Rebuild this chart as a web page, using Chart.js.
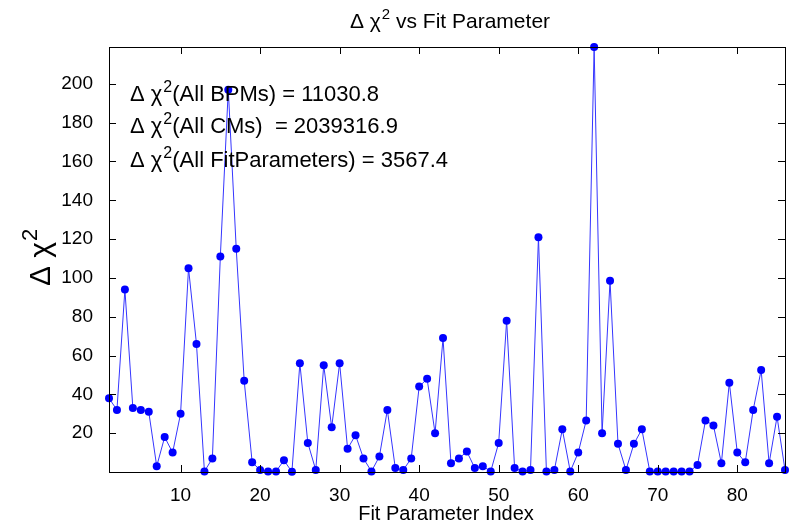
<!DOCTYPE html>
<html>
<head>
<meta charset="utf-8">
<script src="https://cdn.jsdelivr.net/npm/chart.js@4.4.1/dist/chart.umd.min.js"></script>
<style>
html,body{margin:0;padding:0;background:#fff;}
#caja{width:792px;height:525px;}
</style>
</head>
<body>
<div id="caja"><canvas id="GraficaChi"></canvas></div>
<script>
// indice del parametro de ajuste
var Indices = [1,2,3,4,5,6,7,8,9,10,11,12,13,14,15,16,17,18,19,20,
    21,22,23,24,25,26,27,28,29,30,31,32,33,34,35,36,37,38,39,40,
    41,42,43,44,45,46,47,48,49,50,51,52,53,54,55,56,57,58,59,60,
    61,62,63,64,65,66,67,68,69,70,71,72,73,74,75,76,77,78,79,80,
    81,82,83,84,85,86];
// delta chi^2 por parametro
var DeltaChi2 = [38,32,94,33,32,31,3,18,10,30,
    105,66,0.3,7,111,197,115,47,5,1,
    0.3,0.3,6,0.1,56,15,1,55,23,56,
    12,19,7,0.3,8,32,2,1,7,44,
    48,20,69,4.5,7,10.5,2,3,0.3,15,
    78,2,0.3,1,121,0.3,1,22,0.3,10,
    26.5,219,20,98.5,14.5,1,14.5,22,0.3,0.3,
    0.3,0.3,0.3,0.3,3.6,26.5,24,4.5,46,10,
    5,32,52.5,4.5,28.5,1];
var TicksX = [10,20,30,40,50,60,70,80];
var TicksY = [20,40,60,80,100,120,140,160,180,200];
var Totales = ['(All BPMs) = 11030.8', '(All CMs)  = 2039316.9', '(All FitParameters) = 3567.4'];

var FUENTE = '"Liberation Sans", Arial, sans-serif';

function TextoChi(ctx, x, y, size, resto){
    // dibuja "Δ χ" + superindice 2 + resto
    ctx.font = size+'px '+FUENTE;
    ctx.fillText('\u0394 \u03c7', x, y);
    var w = ctx.measureText('\u0394 \u03c7').width;
    ctx.font = Math.round(size*0.72)+'px '+FUENTE;
    ctx.fillText('2', x+w+1, y-size*0.42);
    var w2 = ctx.measureText('2').width;
    ctx.font = size+'px '+FUENTE;
    ctx.fillText(resto, x+w+w2+1, y);
    return w+w2+1+ctx.measureText(resto).width;
}

var Marco = {
    id: 'marco',
    afterDraw: function(chart){
        var ctx = chart.ctx, a = chart.chartArea;
        var sx = chart.scales.x, sy = chart.scales.y;
        ctx.save();
        ctx.strokeStyle = '#000';
        ctx.lineWidth = 1;
        ctx.strokeRect(Math.round(a.left)+0.5, Math.round(a.top)+0.5, Math.round(a.right-a.left), Math.round(a.bottom-a.top));
        ctx.beginPath();
        TicksX.forEach(function(t){
            var px = Math.round(sx.getPixelForValue(t))+0.5;
            ctx.moveTo(px, a.bottom); ctx.lineTo(px, a.bottom-7);
            ctx.moveTo(px, a.top); ctx.lineTo(px, a.top+7);
        });
        TicksY.forEach(function(t){
            var py = Math.round(sy.getPixelForValue(t))+0.5;
            ctx.moveTo(a.left, py); ctx.lineTo(a.left+7, py);
            ctx.moveTo(a.right, py); ctx.lineTo(a.right-7, py);
        });
        ctx.stroke();

        ctx.fillStyle = '#000';
        ctx.textBaseline = 'alphabetic';
        ctx.textAlign = 'left';
        // titulo (centrado a mano)
        ctx.globalAlpha = 0;
        var ancho = TextoChi(ctx, 0, -100, 21, ' vs Fit Parameter');
        ctx.globalAlpha = 1;
        TextoChi(ctx, 450 - ancho/2, 28, 21, ' vs Fit Parameter');
        // totales
        var ys = [101, 133, 167];
        Totales.forEach(function(t, i){
            TextoChi(ctx, 130, ys[i], 22, t);
        });
        // etiqueta eje x
        ctx.textAlign = 'center';
        ctx.font = '20px '+FUENTE;
        ctx.fillText('Fit Parameter Index', 446, 520);
        // etiqueta eje y
        ctx.translate(50, 286);
        ctx.rotate(-Math.PI/2);
        ctx.textAlign = 'left';
        TextoChi(ctx, 0, 0, 30, '');
        ctx.restore();
    }
};

var ctx = document.getElementById('GraficaChi');
var chart = new Chart(ctx, {
    type: 'line',
    data: {
        datasets: [{
            label: 'Delta chi2',
            data: Indices.map(function(x, i){ return {x: x, y: DeltaChi2[i]}; }),
            borderColor: '#3535ff',
            backgroundColor: '#0000ff',
            borderWidth: 1,
            pointRadius: 4,
            pointBorderWidth: 0,
            pointBackgroundColor: '#0000ff',
            tension: 0,
            clip: false
        }]
    },
    options: {
        responsive: true,
        maintainAspectRatio: false,
        animation: false,
        layout: {padding: {top: 47, right: 7, left: 0, bottom: 0}},
        plugins: {legend: {display: false}, tooltip: {enabled: false}, title: {display: false}},
        scales: {
            x: {
                type: 'linear', min: 1, max: 86,
                grid: {display: false}, border: {display: false},
                afterBuildTicks: function(s){ s.ticks = TicksX.map(function(v){ return {value: v}; }); },
                afterFit: function(s){ s.height = 53; },
                ticks: {color: '#000', font: {size: 19, family: FUENTE}, padding: 4, maxRotation: 0, autoSkip: false}
            },
            y: {
                min: 0, max: 219,
                grid: {display: false}, border: {display: false},
                afterBuildTicks: function(s){ s.ticks = TicksY.map(function(v){ return {value: v}; }); },
                afterFit: function(s){ s.width = 109; },
                ticks: {color: '#000', font: {size: 19, family: FUENTE}, padding: 8, autoSkip: false}
            }
        }
    },
    plugins: [Marco]
});
</script>
</body>
</html>
